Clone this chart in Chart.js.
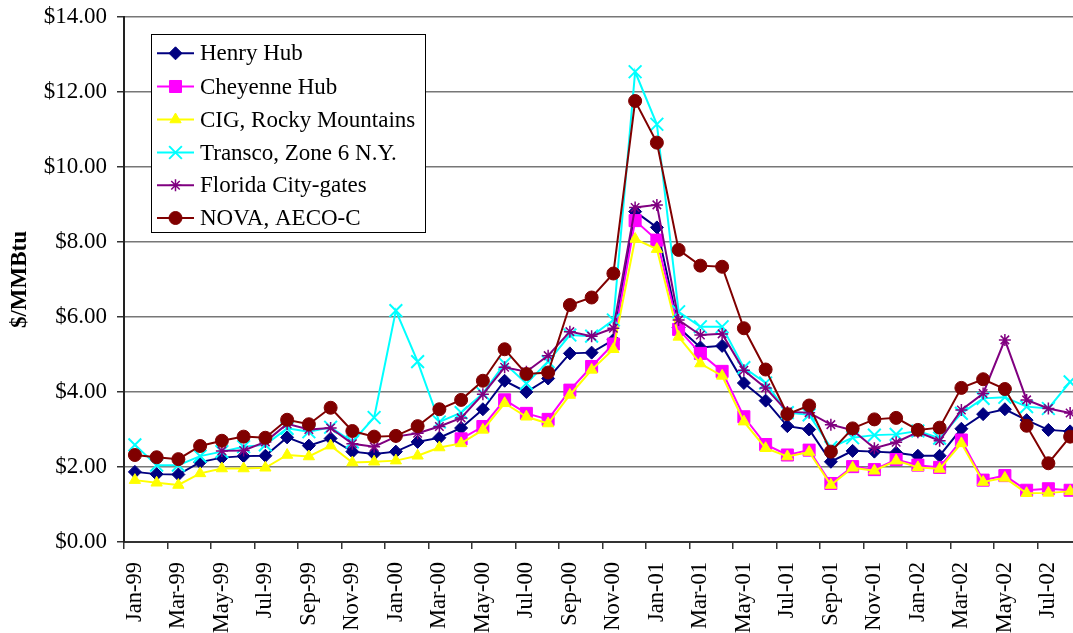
<!DOCTYPE html>
<html>
<head>
<meta charset="utf-8">
<title>Natural gas spot prices</title>
<script src="https://cdn.jsdelivr.net/npm/chart.js@4/dist/chart.umd.min.js"></script>
<style>
  html, body { margin: 0; padding: 0; background: #fff; overflow: hidden; }
  #wrap { width: 1092px; height: 633px; }
</style>
</head>
<body>
<div id="wrap"><canvas id="c" width="1092" height="633"></canvas></div>
<script>
// Monthly categories, Jan-99 .. Aug-02
const months = [
  'Jan-99','Feb-99','Mar-99','Apr-99','May-99','Jun-99','Jul-99','Aug-99','Sep-99','Oct-99','Nov-99','Dec-99',
  'Jan-00','Feb-00','Mar-00','Apr-00','May-00','Jun-00','Jul-00','Aug-00','Sep-00','Oct-00','Nov-00','Dec-00',
  'Jan-01','Feb-01','Mar-01','Apr-01','May-01','Jun-01','Jul-01','Aug-01','Sep-01','Oct-01','Nov-01','Dec-01',
  'Jan-02','Feb-02','Mar-02','Apr-02','May-02','Jun-02','Jul-02','Aug-02'
];

// Prices in $/MMBtu
const henryHub = [
  1.87,1.81,1.80,2.13,2.25,2.29,2.30,2.79,2.57,2.76,2.41,2.35,
  2.41,2.67,2.78,3.04,3.54,4.30,4.00,4.36,5.03,5.05,5.39,8.81,
  8.39,5.72,5.19,5.23,4.24,3.77,3.09,3.00,2.14,2.43,2.41,2.38,
  2.30,2.30,3.02,3.41,3.54,3.25,2.99,2.95
];
const cheyenneHub = [
  null,null,null,null,null,null,null,null,null,null,null,null,
  null,null,null,2.75,3.08,3.79,3.43,3.27,4.05,4.68,5.28,8.57,
  8.05,5.67,5.03,4.55,3.34,2.60,2.32,2.45,1.56,2.01,1.93,2.20,
  2.05,1.99,2.72,1.65,1.77,1.38,1.42,1.38
];
const cigRocky = [
  1.65,1.58,1.52,1.83,1.96,1.96,1.98,2.32,2.28,2.57,2.12,2.14,
  2.17,2.30,2.52,2.63,2.99,3.70,3.34,3.16,3.92,4.59,5.14,8.08,
  7.81,5.47,4.76,4.43,3.21,2.50,2.28,2.40,1.52,1.98,1.90,2.17,
  1.99,1.95,2.63,1.60,1.71,1.30,1.31,1.35
];
const transco = [
  2.59,2.05,2.05,2.29,2.41,2.54,2.59,3.03,2.94,3.06,2.67,3.32,
  6.17,4.81,3.20,3.45,3.96,4.76,4.23,4.81,5.52,5.49,5.92,12.54,
  11.14,6.14,5.74,5.74,4.65,4.24,3.45,3.39,2.52,2.78,2.85,2.87,
  2.96,2.77,3.43,3.83,3.86,3.61,3.56,4.27
];
const floridaCityGates = [
  null,null,null,null,2.43,2.44,2.67,3.15,3.00,3.04,2.62,2.54,
  2.81,2.90,3.08,3.31,3.94,4.66,4.54,4.97,5.61,5.49,5.70,8.92,
  8.99,5.92,5.52,5.55,4.58,4.11,3.47,3.45,3.13,2.98,2.50,2.66,
  2.93,2.70,3.52,3.96,5.39,3.79,3.56,3.44
];
const novaAeco = [
  2.32,2.26,2.21,2.56,2.70,2.81,2.78,3.26,3.14,3.58,2.96,2.81,
  2.83,3.09,3.54,3.79,4.30,5.14,4.48,4.52,6.32,6.52,7.16,11.76,
  10.65,7.79,7.37,7.34,5.70,4.60,3.41,3.64,2.41,3.03,3.27,3.31,
  2.99,3.05,4.11,4.34,4.08,3.10,2.10,2.81
];

const seriesNames = ['Henry Hub','Cheyenne Hub','CIG, Rocky Mountains','Transco, Zone 6 N.Y.','Florida City-gates','NOVA, AECO-C'];
const yTicks = [0, 2, 4, 6, 8, 10, 12, 14];

const FONT = '"Liberation Serif", "Times New Roman", Times, serif';

function series(label, data, color, style, radius, bw, order) {
  return {
    label, data,
    borderColor: color,
    backgroundColor: color,
    borderWidth: 2,
    pointStyle: style,
    pointRadius: radius,
    pointHoverRadius: radius,
    pointBorderWidth: bw,
    pointBackgroundColor: color,
    pointBorderColor: color,
    tension: 0,
    spanGaps: false,
    order
  };
}

// Legend box drawn inside the plot area, Excel style
const boxLegend = {
  id: 'boxLegend',
  afterDraw(chart) {
    const ctx = chart.ctx;
    const x0 = 151, y0 = 34.5, w = 274, h = 198;
    ctx.save();
    ctx.fillStyle = '#fff';
    ctx.fillRect(x0, y0, w, h);
    ctx.strokeStyle = '#000';
    ctx.lineWidth = 1;
    ctx.strokeRect(x0 + 0.5, y0, w, h);
    const rowY = [53.3, 86.5, 119.5, 152.5, 185.3, 218];
    chart.data.datasets.forEach((ds, i) => {
      const y = rowY[i];
      ctx.strokeStyle = ds.borderColor;
      ctx.lineWidth = ds.borderWidth;
      ctx.beginPath();
      ctx.moveTo(157, y);
      ctx.lineTo(194, y);
      ctx.stroke();
      ctx.fillStyle = ds.pointBackgroundColor;
      ctx.strokeStyle = ds.pointBorderColor;
      ctx.lineWidth = ds.pointBorderWidth;
      Chart.helpers.drawPoint(ctx, {
        pointStyle: ds.pointStyle,
        radius: ds.pointRadius,
        rotation: 0,
        borderWidth: ds.pointBorderWidth
      }, 175.5, y);
      ctx.fillStyle = '#000';
      ctx.font = '23px ' + FONT;
      ctx.textAlign = 'left';
      ctx.textBaseline = 'middle';
      ctx.fillText(ds.label, 200, y + 1);
    });
    ctx.restore();
  }
};

new Chart(document.getElementById('c'), {
  type: 'line',
  data: {
    labels: months,
    datasets: [
      series(seriesNames[0], henryHub, '#000080', 'rectRot', 6.5, 1, 5),
      series(seriesNames[1], cheyenneHub, '#FF00FF', 'rect', 8.5, 1, 4),
      series(seriesNames[2], cigRocky, '#FFFF00', 'triangle', 6.5, 1, 3),
      series(seriesNames[3], transco, '#00FFFF', 'crossRot', 9, 2, 2),
      series(seriesNames[4], floridaCityGates, '#800080', 'star', 6, 1.5, 1),
      series(seriesNames[5], novaAeco, '#800000', 'circle', 6.5, 1, 0)
    ]
  },
  options: {
    responsive: false,
    animation: false,
    events: [],
    layout: { padding: { top: 17, right: 0, bottom: 0, left: 0 } },
    plugins: {
      legend: { display: false },
      tooltip: { enabled: false },
      title: { display: false }
    },
    scales: {
      x: {
        type: 'category',
        offset: true,
        border: { display: true, color: '#333', width: 2 },
        grid: {
          offset: true,
          drawOnChartArea: false,
          drawTicks: true,
          tickLength: 7,
          lineWidth: 1.5,
          tickColor: (c) => (c.index % 2 === 0 ? '#333' : 'rgba(0,0,0,0)'),
          color: (c) => (c.index % 2 === 0 ? '#333' : 'rgba(0,0,0,0)')
        },
        ticks: {
          autoSkip: false,
          maxRotation: 90,
          minRotation: 90,
          padding: 13,
          color: '#000',
          font: { family: FONT, size: 22.5 },
          callback: function (v, i) { return i % 2 === 0 ? months[i] : ''; }
        },
        afterFit: (s) => {
          s.height = 91;
          s.paddingLeft = 0;
          s.paddingRight = 0;
        }
      },
      y: {
        min: 0,
        max: 14,
        afterBuildTicks: (s) => { s.ticks = yTicks.map(v => ({ value: v })); },
        border: { display: true, color: '#222', width: 2 },
        grid: {
          color: '#777',
          lineWidth: 1.5,
          tickLength: 7,
          tickColor: '#333'
        },
        ticks: {
          padding: 10,
          color: '#000',
          font: { family: FONT, size: 23 },
          callback: (v) => '$' + Number(v).toFixed(2)
        },
        title: {
          display: true,
          text: '$/MMBtu',
          color: '#000',
          padding: { top: 6, bottom: 0 },
          font: { family: FONT, size: 23, weight: 'bold' }
        },
        afterFit: (s) => {
          s.width = 124;
          s.paddingTop = 0;
          s.paddingBottom = 0;
        }
      }
    }
  },
  plugins: [boxLegend]
});
</script>
</body>
</html>
